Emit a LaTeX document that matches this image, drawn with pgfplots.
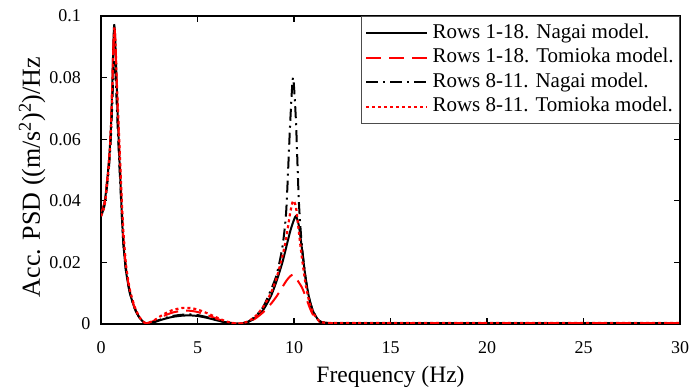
\documentclass[border=0pt]{standalone}
\usepackage{fontspec}
\setmainfont{Liberation Serif}
\usepackage{pgfplots}
\pgfplotsset{compat=1.18}
\usepackage{pgfplotstable}

\pgfplotstableread{
f      A       B       C       D
0      0.036   0.036   0.035   0.035
0.2    0.040   0.040   0.039   0.039
0.4    0.052   0.052   0.050   0.051
0.5    0.062   0.062   0.059   0.061
0.55   0.070   0.071   0.066   0.069
0.6    0.081   0.081   0.074   0.080
0.64   0.091   0.090   0.081   0.089
0.68   0.097   0.096   0.086   0.095
0.72   0.095   0.095   0.085   0.094
0.76   0.088   0.089   0.080   0.089
0.8    0.080   0.081   0.074   0.082
0.85   0.070   0.072   0.066   0.074
0.95   0.054   0.057   0.052   0.059
1.05   0.040   0.042   0.039   0.044
1.15   0.027   0.029   0.027   0.031
1.3    0.017   0.018   0.017   0.019
1.5    0.0100  0.0105  0.0100  0.0110
1.75   0.0050  0.0052  0.0050  0.0055
2.0    0.0020  0.0021  0.0020  0.0022
2.3    0.0002  0.0003  0.0002  0.0003
2.7    0.0005  0.0009  0.0006  0.0010
3.2    0.0015  0.0025  0.0017  0.0030
3.7    0.0023  0.0037  0.0026  0.0045
4.2    0.0027  0.0043  0.0030  0.0052
4.6    0.0028  0.0043  0.0031  0.0052
5.0    0.0026  0.0039  0.0029  0.0047
5.5    0.0020  0.0029  0.0022  0.0035
6.0    0.0012  0.0017  0.0013  0.0021
6.5    0.0005  0.0007  0.0005  0.0008
7.1    0.0001  0.0001  0.0001  0.0001
7.6    0.0006  0.0006  0.0007  0.0008
8.0    0.0020  0.0018  0.0025  0.0025
8.4    0.0045  0.0038  0.0055  0.0055
8.8    0.0090  0.0065  0.0110  0.0100
9.1    0.0140  0.0090  0.0160  0.0150
9.4    0.0200  0.0120  0.0250  0.0220
9.6    0.0250  0.0140  0.0370  0.0280
9.8    0.0300  0.0155  0.0650  0.0360
9.95   0.0330  0.0160  0.0800  0.0400
10.1   0.0350  0.0150  0.0660  0.0380
10.25  0.0320  0.0135  0.0400  0.0300
10.4   0.0250  0.0120  0.0260  0.0220
10.6   0.0150  0.0090  0.0150  0.0130
10.8   0.0080  0.0055  0.0080  0.0070
11.0   0.0040  0.0028  0.0040  0.0035
11.3   0.0010  0.0008  0.0010  0.0010
11.6   0.0004  0.0004  0.0004  0.0004
12     0.0003  0.0003  0.0003  0.0003
14     0.0003  0.0003  0.0003  0.0003
18     0.0003  0.0003  0.0003  0.0003
22     0.0003  0.0003  0.0003  0.0003
26     0.0003  0.0003  0.0003  0.0003
30     0.0003  0.0003  0.0003  0.0003
}\psd

\begin{document}
\begin{tikzpicture}
\begin{axis}[
  scale only axis, width=579pt, height=308pt,
  xmin=0, xmax=30, ymin=0, ymax=0.1,
  xtick={0,5,10,15,20,25,30},
  xticklabels={0,5,10,15,20,25,30},
  ytick={0,0.02,0.04,0.06,0.08,0.1},
  yticklabels={{0\hspace*{-11pt}},0.02,0.04,0.06,0.08,0.1},
  /pgf/number format/assume math mode=true,
  tick align=inside, major tick length=6pt,
  tick style={black, line width=1.2pt},
  axis line style={black, line width=1.2pt},
  every tick label/.append style={font=\fontsize{18}{21}\selectfont},
  xticklabel style={anchor=base, inner sep=0pt, yshift=-29pt},
  yticklabel style={anchor=east, inner sep=0pt, xshift=-20pt},
  xlabel={Frequency (Hz)},
  ylabel={Acc. PSD ((m/s\textsuperscript{2})\textsuperscript{2})/Hz},
  xlabel style={font=\fontsize{23.5}{27}\selectfont, at={(axis description cs:0.5,0)}, anchor=base, yshift=-58pt},
  ylabel style={font=\fontsize{26}{30}\selectfont, at={(axis description cs:-0.1054,0.477)}, anchor=base},
  legend style={at={(1,1)}, anchor=north east, draw=black!70, line width=0.6pt,
    font=\fontsize{21}{24}\selectfont, inner xsep=4pt, inner ysep=5pt,
    row sep=0.5pt, column sep=2pt, cells={anchor=west},
    nodes={inner sep=2pt, text height=15pt, text depth=5pt}},
  legend image code/.code={\draw[#1] (0pt,0pt) -- (61pt,0pt);},
]
\addplot[black, line width=2pt, smooth, tension=0.4] table[x=f, y=A] {\psd};
\addlegendentry{Rows 1-18. Nagai model.}
\addplot[red, line width=2pt, dash pattern=on 15pt off 8pt, smooth, tension=0.4] table[x=f, y=B] {\psd};
\addlegendentry{Rows 1-18. Tomioka model.}
\addplot[black, line width=2pt, dash pattern=on 12pt off 5pt on 2pt off 5pt, smooth, tension=0.4] table[x=f, y=C] {\psd};
\addlegendentry{Rows 8-11. Nagai model.}
\addplot[red, line width=2.2pt, dash pattern=on 3pt off 3pt, smooth, tension=0.4] table[x=f, y=D] {\psd};
\addlegendentry{Rows 8-11. Tomioka model.}
\end{axis}
\pgfresetboundingbox
\path (current axis.south west) ++(-101pt,-66pt) coordinate (bl);
\path (current axis.north east) ++(12pt,16pt) coordinate (tr);
\path (bl) rectangle (tr);
\end{tikzpicture}
\end{document}
